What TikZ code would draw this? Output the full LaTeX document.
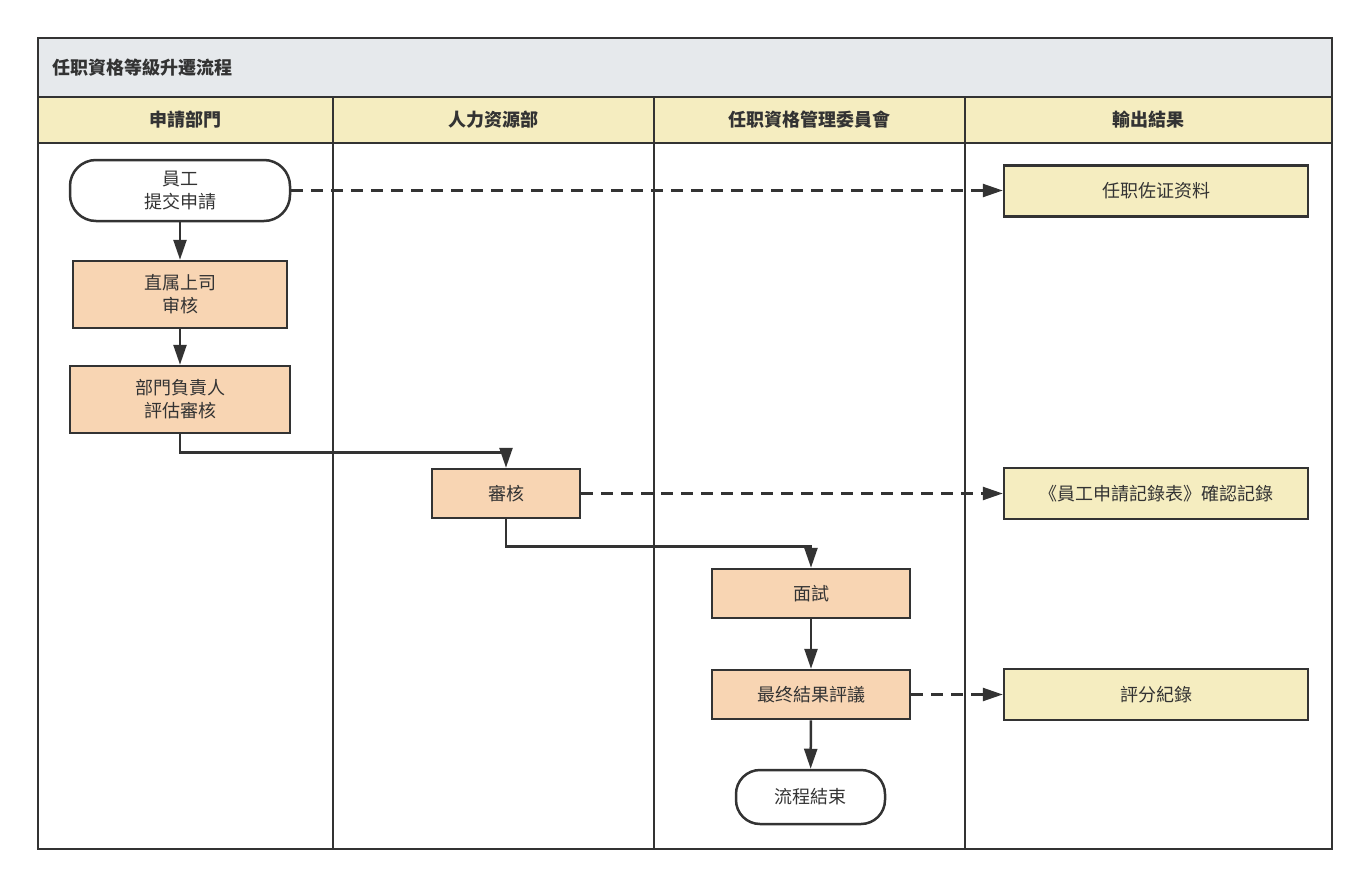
\documentclass[tikz,border=0pt]{standalone}
\usepackage{fontspec}
\setmainfont{Noto Sans CJK SC}
\usetikzlibrary{arrows.meta}
\definecolor{ln}{HTML}{333333}
\definecolor{titlebg}{HTML}{E6E9EC}
\definecolor{hdr}{HTML}{F5EDC0}
\definecolor{proc}{HTML}{F8D5B3}
\begin{document}
\begin{tikzpicture}[x=1pt,y=-1pt,
  every node/.style={font=\fontsize{18}{23}\selectfont, text=ln},
  frame/.style={draw=ln, line width=2.5pt},
  box/.style={draw=ln, line width=2.5pt, fill=proc, align=center, inner sep=0pt},
  outbox/.style={draw=ln, line width=2.5pt, fill=hdr, align=center, inner sep=0pt, minimum width=304pt, minimum height=51pt},
  term/.style={draw=ln, line width=2.5pt, fill=white, align=center, inner sep=0pt},
  hdrtext/.style={font=\fontsize{18}{23}\selectfont\bfseries},
  arr/.style={draw=ln, line width=2.5pt, -{Triangle[length=20pt,width=13pt]}},
  darr/.style={arr, dash pattern=on 12pt off 8pt}]
\useasboundingbox (0,0) rectangle (1369,886);
\fill[white] (0,0) rectangle (1369,886);
% title and header bars
\fill[titlebg] (38,38) rectangle (1332,97);
\fill[hdr] (38,97) rectangle (1332,143);
\draw[frame] (38,38) rectangle (1332,849);
\draw[frame] (38,97) -- (1332,97);
\draw[frame] (38,143) -- (1332,143);
\draw[frame] (333,97) -- (333,849);
\draw[frame] (654,97) -- (654,849);
\draw[frame] (965,97) -- (965,849);
\node[hdrtext, anchor=west, inner sep=0pt] (title) at (52,68) {任职資格等級升遷流程};
\node[hdrtext] (h1) at (185.5,120) {申請部門};
\node[hdrtext] (h2) at (493.5,120) {人力资源部};
\node[hdrtext] (h3) at (809.5,120) {任职資格管理委員會};
\node[hdrtext] (h4) at (1148.5,120) {輸出結果};
% nodes
\node[term, rounded corners=26pt, minimum width=220pt, minimum height=61pt] (s) at (180,190.5) {員工\\提交申請};
\node[box, minimum width=214pt, minimum height=67pt] (n1) at (180,294.5) {直属上司\\审核};
\node[box, minimum width=220pt, minimum height=67pt] (n2) at (180,399.5) {部門負責人\\評估審核};
\node[box, minimum width=148pt, minimum height=49pt] (n3) at (506,493.5) {審核};
\node[box, minimum width=198pt, minimum height=49pt] (n4) at (811,593.5) {面試};
\node[box, minimum width=198pt, minimum height=49pt] (n5) at (811,694.5) {最终結果評議};
\node[term, rounded corners=24pt, minimum width=149pt, minimum height=54pt] (e) at (810.5,797) {流程結束};
\node[outbox] (o1) at (1156,191) {任职佐证资料};
\node[outbox] (o2) at (1156,493.5) {《員工申請記錄表》確認記錄};
\node[outbox] (o3) at (1156,694.5) {評分紀錄};
% connectors
\draw[arr] (s) -- (n1);
\draw[arr] (n1) -- (n2);
\draw[arr] (n2.south) -- ++(0,18) -| (n3.north);
\draw[arr] (n3.south) -- ++(0,27) -| (n4.north);
\draw[arr] (n4) -- (n5);
\draw[arr] (n5) -- (e);
\draw[darr] (s.east) -- (s.east -| o1.west);
\draw[darr] (n3.east) -- (n3.east -| o2.west);
\draw[darr] (n5.east) -- (n5.east -| o3.west);
\end{tikzpicture}
\end{document}
